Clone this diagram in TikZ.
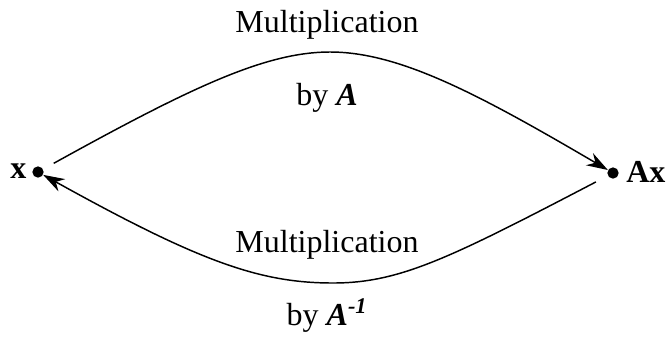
\documentclass[tikz,border=0pt]{standalone}
\usepackage{fontspec}
\setmainfont{Liberation Serif}
\usetikzlibrary{arrows.meta}
\tikzstyle{dot} = [circle, fill=black, inner sep=0pt, minimum size=8.5pt]
\tikzstyle{lbl} = [font=\fontsize{24}{28}\selectfont]
\tikzstyle{arrow} = [line width=1.1pt, -{Stealth[length=16pt, width=10.5pt]}]

\begin{document}
\begin{tikzpicture}[x=0.75pt, y=-0.75pt]
\useasboundingbox (0,0) rectangle (666,337);

\node (xpt) [dot] at (38,172) {};
\node (axpt) [dot] at (613,173) {};
\node (xlbl) [lbl, anchor=east] at (31,171) {\textbf{x}};
\node (axlbl) [lbl, anchor=west, inner sep=0pt] at (626,172) {\textbf{Ax}};

\node (top1) [lbl] at (327,25) {Multiplication};
\node (top2) [lbl] at (327,98) {by \textbf{\textit{A}}};
\node (bot1) [lbl] at (327,245) {Multiplication};
\node (bot2) [lbl] at (327,316) {by \textbf{\textit{A\textsuperscript{-1}}}};

% turning points of the two arcs
\coordinate (topc) at (330,52);
\coordinate (botc) at (333,283);

\draw [arrow, shorten <=9pt] (xpt) .. controls (190,88) and (265,52) .. (topc)
  .. controls (400,52) and (480,95) .. (axpt);
\draw [arrow, shorten <=10pt] (axpt) .. controls (450,258) and (400,283) .. (botc)
  .. controls (260,283) and (200,262) .. (xpt);

\end{tikzpicture}
\end{document}
